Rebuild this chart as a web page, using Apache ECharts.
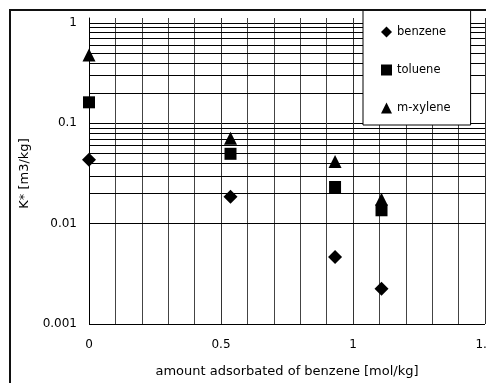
<!DOCTYPE html>
<html>
<head>
<meta charset="utf-8">
<script src="https://cdn.jsdelivr.net/npm/echarts@6/dist/echarts.min.js"></script>
<style>
  html, body { margin: 0; padding: 0; background: #fff; }
  #chart { width: 486px; height: 383px; }
</style>
</head>
<body>
<div id="chart"></div>
<script>
// Partition coefficient K* versus amount of benzene adsorbed
const seriesNames = ['benzene', 'toluene', 'm-xylene'];
const seriesSymbols = ['diamond', 'rect', 'triangle'];
const loading = [0, 0.536, 0.932, 1.108];           // mol/kg
const benzene = [0.0433, 0.0186, 0.00466, 0.00225]; // m3/kg
const toluene = [0.162, 0.0497, 0.0232, 0.0136];
const mXylene = [0.48, 0.071, 0.0417, 0.0175];
const yTicks = [0.001, 0.01, 0.1, 1];
const xTicks = [0, 0.5, 1, 1.5];
// intermediate log-decade grid lines (2..9 of each decade)
const minorGrid = [
  0.002, 0.003, 0.004, 0.005, 0.006, 0.007, 0.008, 0.009,
  0.02, 0.03, 0.04, 0.05, 0.06, 0.07, 0.08, 0.09,
  0.2, 0.3, 0.4, 0.5, 0.6, 0.7, 0.8, 0.9
];

const FONT = '"DejaVu Sans", sans-serif';
const values = [benzene, toluene, mXylene];

const chart = echarts.init(document.getElementById('chart'), null, { renderer: 'canvas' });

const series = seriesNames.map((name, i) => ({
  name: name,
  type: 'scatter',
  symbol: seriesSymbols[i],
  symbolSize: i === 2 ? [13, 13] : (i === 1 ? 12 : 14),
  itemStyle: { color: '#000', opacity: 1 },
  emphasis: { disabled: true },
  z: 5,
  data: loading.map((x, k) => [x, values[i][k]])
}));

// helper series carrying the decade subdivision lines
series.push({
  name: 'grid',
  type: 'scatter',
  data: [],
  silent: true,
  z: 1,
  markLine: {
    silent: true,
    symbol: ['none', 'none'],
    label: { show: false },
    lineStyle: { color: '#000', width: 1, type: 'solid', opacity: 1 },
    emphasis: { disabled: true },
    animation: false,
    data: minorGrid.map(v => ({ yAxis: v }))
  }
});

const xGridLines = {
  splitLine: { show: true, lineStyle: { color: '#333', width: 1 } },
  minorTick: { show: false, splitNumber: 5 },
  minorSplitLine: { show: true, lineStyle: { color: '#444', width: 1 } }
};

chart.setOption({
  animation: false,
  backgroundColor: '#fff',
  textStyle: { fontFamily: FONT },
  grid: [
    { left: 89, right: 1, top: 23, bottom: 59, containLabel: false, outerBoundsMode: 'none' },
    // short stubs of the vertical rules above the top of the plot
    { left: 89, right: 1, top: 18, height: 5, containLabel: false, outerBoundsMode: 'none' }
  ],
  xAxis: [{
    type: 'value',
    gridIndex: 0,
    min: xTicks[0],
    max: xTicks[xTicks.length - 1],
    interval: 0.5,
    name: 'amount adsorbated of benzene [mol/kg]',
    nameLocation: 'middle',
    nameGap: 41,
    nameMoveOverlap: false,
    nameTextStyle: { color: '#000', fontSize: 13, fontFamily: FONT },
    axisLine: { show: false },
    axisTick: { show: false },
    axisLabel: {
      color: '#000', fontSize: 12, margin: 15, fontFamily: FONT,
      hideOverlap: false,
      formatter: v => String(v)
    },
    ...xGridLines
  }, {
    type: 'value',
    gridIndex: 1,
    min: xTicks[0],
    max: xTicks[xTicks.length - 1],
    interval: 0.5,
    axisLine: { show: false },
    axisTick: { show: false },
    axisLabel: { show: false },
    ...xGridLines
  }],
  yAxis: [{
    type: 'log',
    gridIndex: 0,
    logBase: 10,
    min: yTicks[0],
    max: yTicks[yTicks.length - 1],
    name: 'K* [m3/kg]',
    nameLocation: 'middle',
    nameGap: 58,
    nameRotate: 90,
    nameMoveOverlap: false,
    nameTextStyle: { color: '#000', fontSize: 13, fontFamily: FONT },
    axisLine: { show: true, onZero: false, lineStyle: { color: '#000', width: 1 } },
    axisTick: { show: false },
    axisLabel: {
      color: '#000', fontSize: 12, margin: 12, fontFamily: FONT,
      formatter: v => String(v)
    },
    splitLine: { show: true, lineStyle: { color: '#000', width: 1 } }
  }, {
    type: 'value',
    gridIndex: 1,
    min: 0,
    max: 1,
    show: true,
    axisLine: { show: true, onZero: false, lineStyle: { color: '#000', width: 1 } },
    axisTick: { show: false },
    axisLabel: { show: false },
    splitLine: { show: false }
  }],
  legend: {
    orient: 'vertical',
    left: 363,
    top: 10,
    padding: [16, 20, 11, 18],
    itemGap: 26,
    itemWidth: 11,
    itemHeight: 11,
    itemStyle: { color: '#000', opacity: 1 },
    backgroundColor: '#fff',
    borderColor: '#000',
    borderWidth: 1,
    textStyle: { color: '#000', fontSize: 11.5, fontFamily: FONT },
    data: seriesNames.map((n, i) => ({ name: n, icon: seriesSymbols[i] })),
    selectedMode: false,
    z: 10
  },
  graphic: [{
    type: 'rect',
    silent: true,
    z: 100,
    shape: { x: 10, y: 10, width: 600, height: 600 },
    style: { fill: 'none', stroke: '#111', lineWidth: 2 }
  }],
  series: series
});
</script>
</body>
</html>
